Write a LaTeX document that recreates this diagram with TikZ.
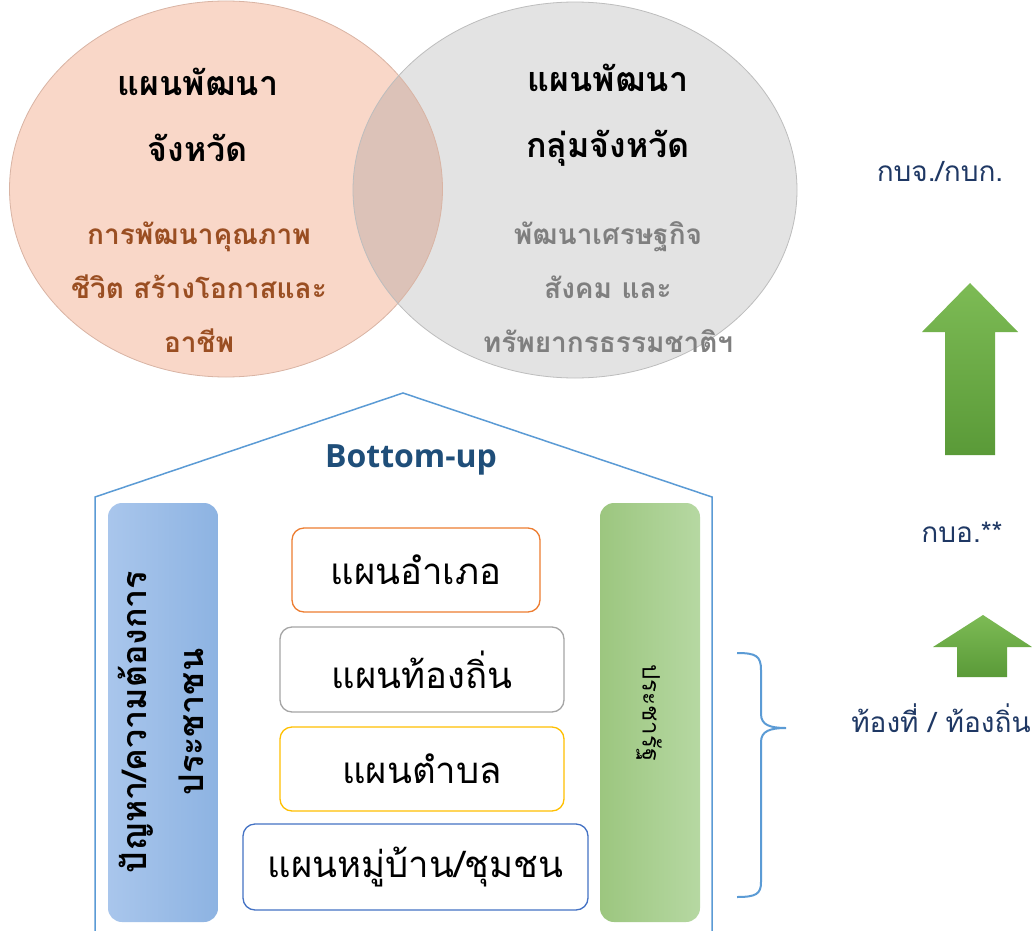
\documentclass[tikz,border=0pt]{standalone}
\usepackage{fontspec}
\newfontfamily\thai[Script=Thai]{Loma}
\newfontfamily\latinsans{Open Sans}
\usetikzlibrary{shapes.geometric}
\definecolor{peach}{HTML}{F9D7C8}
\definecolor{peachline}{HTML}{D9B4A4}
\definecolor{greyfill}{HTML}{E3E3E3}
\definecolor{greyline}{HTML}{BDBDBD}
\definecolor{overlapc}{HTML}{DCC2B8}
\definecolor{brownt}{HTML}{9A4E22}
\definecolor{greyt}{HTML}{7F7F7F}
\definecolor{navy}{HTML}{1F3864}
\definecolor{bupc}{HTML}{1F4E79}
\definecolor{housec}{HTML}{5B9BD5}
\definecolor{orangeb}{HTML}{ED7D31}
\definecolor{greyb}{HTML}{A5A5A5}
\definecolor{yellowb}{HTML}{FFC000}
\definecolor{blueb}{HTML}{4472C4}
\definecolor{blueL}{HTML}{A9C6EC}
\definecolor{blueR}{HTML}{8DB3E2}
\definecolor{greenL}{HTML}{9CC67F}
\definecolor{greenR}{HTML}{B6D8A2}
\definecolor{arrowT}{HTML}{7DBB55}
\definecolor{arrowB}{HTML}{5A9A38}
\tikzset{
  title/.style={font=\thai\bfseries\fontsize{34}{66}\selectfont, align=center, text=black},
  subtxt/.style={font=\thai\bfseries\fontsize{28}{54}\selectfont, align=center},
  planbox/.style={draw, line width=1.3pt, rounded corners=12pt, fill=white, font=\thai\fontsize{36.5}{40}\selectfont, inner sep=0pt},
  sidelabel/.style={font=\thai\fontsize{28}{32}\selectfont, text=navy},
  bar/.style={rounded corners=14pt, inner sep=0pt},
  uparrow/.style={top color=arrowT, bottom color=arrowB, draw=none}
}
\begin{document}
\begin{tikzpicture}[x=1pt,y=-1pt]
\useasboundingbox (0,0) rectangle (1033,931);
\fill[white] (0,0) rectangle (1033,931);
% circles
\node[ellipse, fill=peach, minimum width=433pt, minimum height=376pt, inner sep=0pt] (prov) at (226,189) {};
\node[ellipse, fill=greyfill, minimum width=444pt, minimum height=376pt, inner sep=0pt] (grp) at (575,190) {};
\begin{scope}
  \clip (226,189) ellipse [x radius=216.5pt, y radius=188pt];
  \fill[overlapc] (575,190) ellipse [x radius=222pt, y radius=188pt];
\end{scope}
\draw[peachline, line width=0.8pt] (226,189) ellipse [x radius=216.5pt, y radius=188pt];
\draw[greyline, line width=0.8pt] (575,190) ellipse [x radius=222pt, y radius=188pt];
% circle texts
\node[title] (provt) at (198,115) {แผนพัฒนา\\จังหวัด};
\node[subtxt, text=brownt] (provs) at (199,287) {การพัฒนาคุณภาพ\\ชีวิต สร้างโอกาสและ\\อาชีพ};
\node[title] (grpt) at (608,115) {แผนพัฒนา\\กลุ่มจังหวัด};
\node[subtxt, text=greyt] (grps) at (608,287) {พัฒนาเศรษฐกิจ\\สังคม และ\\ทรัพยากรธรรมชาติฯ};
% house
\draw[housec, line width=1.5pt] (95,931) -- (95,497) -- (403,393) -- (712,497) -- (712,931);
\node[font=\latinsans\bfseries\fontsize{32}{36}\selectfont, text=bupc] (bup) at (411,460) {Bottom-up};
% side bars
\node[bar, left color=blueL, right color=blueR, minimum width=110pt, minimum height=419pt] (needsbar) at (163,712.5) {};
\node[rotate=90, align=center, font=\thai\bfseries\fontsize{34}{57}\selectfont] (needst) at (161,722) {ปัญหา/ความต้องการ\\ประชาชน};
\node[bar, left color=greenL, right color=greenR, minimum width=100pt, minimum height=419pt] (statebar) at (650,712.5) {};
\node[rotate=-90, font=\thai\fontsize{24}{28}\selectfont] (statet) at (649,713) {ประชารัฐ};
% plan boxes
\node[planbox, draw=orangeb, minimum width=248pt, minimum height=84pt] (amphoe) at (416,570) {แผนอำเภอ};
\node[planbox, draw=greyb, minimum width=284pt, minimum height=85pt] (local) at (422,669.5) {แผนท้องถิ่น};
\node[planbox, draw=yellowb, minimum width=284pt, minimum height=84pt] (tambon) at (422,769) {แผนตำบล};
\node[planbox, draw=blueb, minimum width=345pt, minimum height=86pt] (village) at (415.5,867) {แผนหมู่บ้าน/ชุมชน};
% brace
\coordinate (bt) at (737,653);
\coordinate (bb) at (737,897);
\draw[housec, line width=2pt] (bt) .. controls (756,653) and (761,656) .. (761,670) -- (761,714) .. controls (761,725) and (770,728) .. (786,728) .. controls (770,728) and (761,731) .. (761,742) -- (761,882) .. controls (761,894) and (756,897) .. (bb);
% right labels
\node[sidelabel] (kbj) at (940,172) {กบจ./กบก.};
\node[sidelabel] (kbo) at (962,532) {กบอ.**};
\node[sidelabel] (local2) at (941,718) {ท้องที่ / ท้องถิ่น};
% arrows
\shade[uparrow] (970,283) -- (1018,332) -- (995,332) -- (995,455) -- (945,455) -- (945,332) -- (922,332) -- cycle;
\shade[uparrow] (983,615) -- (1032,647) -- (1007,647) -- (1007,677) -- (957,677) -- (957,647) -- (933,647) -- cycle;
\end{tikzpicture}
\end{document}
